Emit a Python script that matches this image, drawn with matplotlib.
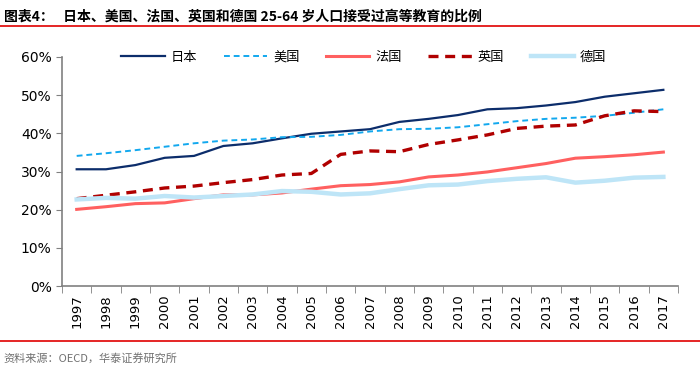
import numpy as np
import matplotlib
matplotlib.use('Agg')
import matplotlib.pyplot as plt
from matplotlib.lines import Line2D

plt.rcParams['font.family'] = ['Noto Sans CJK SC', 'DejaVu Sans']

years = [str(y) for y in range(1997, 2018)]
japan = [30.6, 30.6, 31.7, 33.6, 34.1, 36.7, 37.4, 38.7, 39.9, 40.5, 41.1,
         43.0, 43.8, 44.8, 46.3, 46.6, 47.3, 48.2, 49.6, 50.5, 51.4]
usa = [34.1, 34.8, 35.6, 36.5, 37.4, 38.1, 38.4, 39.0, 39.1, 39.6, 40.5,
       41.1, 41.2, 41.6, 42.4, 43.2, 43.8, 44.1, 44.6, 45.4, 46.3]
france = [20.1, 20.8, 21.6, 21.8, 22.9, 23.9, 23.9, 24.4, 25.4, 26.3, 26.6,
          27.3, 28.6, 29.1, 29.9, 31.0, 32.1, 33.5, 33.9, 34.4, 35.1]
uk = [22.9, 23.8, 24.7, 25.7, 26.2, 27.1, 27.9, 29.1, 29.5, 34.5, 35.4,
      35.2, 37.1, 38.3, 39.6, 41.3, 41.9, 42.2, 44.6, 45.9, 45.7]
germany = [22.7, 23.1, 22.9, 23.6, 23.2, 23.6, 24.0, 24.9, 24.7, 24.0, 24.3,
           25.4, 26.4, 26.6, 27.5, 28.1, 28.5, 27.1, 27.6, 28.4, 28.6]

fig = plt.figure(figsize=(7, 3.75), dpi=100)
ax = fig.add_axes([0.0886, 0.237, 0.88, 0.611])

x = np.arange(len(years))
ax.plot(x, japan, color='#0C2D6B', lw=1.6, label='日本')
ax.plot(x, usa, color='#12A8EE', lw=1.4, ls=(0, (3, 2)), label='美国')
ax.plot(x, france, color='#FF6060', lw=2.2, label='法国')
ax.plot(x, uk, color='#B00000', lw=2.4, ls=(0, (3, 2)), label='英国')
ax.plot(x, germany, color='#BEE5F7', lw=3.2, label='德国')

ax.set_xlim(-0.5, len(years) - 0.5)
ax.set_ylim(0, 60)
ax.set_yticks(np.arange(0, 61, 10))
ax.set_yticklabels([f'{v}%' for v in range(0, 61, 10)], family='DejaVu Sans')
ax.set_xticks(x)
ax.set_xticklabels(years, rotation=90, family='DejaVu Sans')
ax.set_xticks(np.arange(-0.5, len(years)), minor=True)
ax.tick_params(axis='x', which='major', length=0, labelsize=9.5, pad=6)
ax.tick_params(axis='x', which='minor', length=5, color='#808080', direction='out')
ax.tick_params(axis='y', length=4, color='#808080', labelsize=10)
for s in ['top', 'right']:
    ax.spines[s].set_visible(False)
for s in ['left', 'bottom']:
    ax.spines[s].set_color('#808080')
    ax.spines[s].set_linewidth(1.2)

ax.legend(loc='upper center', bbox_to_anchor=(0.49, 1.08), ncol=5, frameon=False,
          fontsize=9.5, handlelength=3.3, columnspacing=2.0, handletextpad=0.45)

fig.text(0.005, 0.975, '图表4：   日本、美国、法国、英国和德国 25-64 岁人口接受过高等教育的比例',
         fontsize=10, fontweight='bold', va='top', ha='left')
fig.add_artist(Line2D([0.0, 1.0], [0.93, 0.93], color='#E00000', lw=1.2, transform=fig.transFigure))
fig.add_artist(Line2D([0.0, 1.0], [0.09, 0.09], color='#E00000', lw=1.2, transform=fig.transFigure))
fig.text(0.005, 0.045, '资料来源：OECD，华泰证券研究所', fontsize=8, color='#707070',
         va='center', ha='left')

fig.savefig('out.png', dpi=100)
